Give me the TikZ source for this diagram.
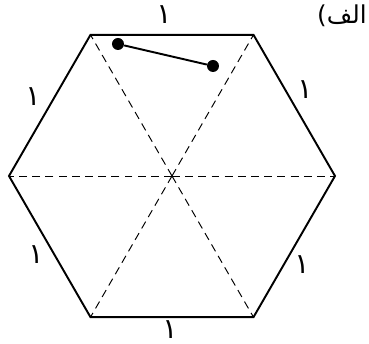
\documentclass[tikz,border=0pt]{standalone}
\usepackage{fontspec}
\TeXXeTstate=1
\newfontfamily\arabicfont[Script=Arabic]{DejaVu Sans}
\tikzset{
  hexside/.style={line width=1.1pt,line join=miter},
  hexdash/.style={line width=0.55pt,dash pattern=on 4.5pt off 3pt},
  sidelab/.style={font=\arabicfont\fontsize{16}{16}\selectfont,inner sep=0pt},
  partlab/.style={font=\arabicfont\fontsize{14}{14}\selectfont,inner sep=0pt},
  endpt/.style={circle,fill=black,inner sep=0pt,minimum size=0.24cm}
}
\begin{document}
\begin{tikzpicture}[x=1cm,y=1cm]
  \def\side{3.26}
  \useasboundingbox (-3.44,-3.36) rectangle (3.94,3.52);
  \coordinate (o) at (0,0);
  \foreach \i in {0,...,5}{
    \coordinate (v\i) at ({\i*60}:\side);
  }
  \foreach \i in {0,...,5}{
    \draw[hexdash] (o) -- (v\i);
  }
  \draw[hexside] (v0) -- (v1) -- (v2) -- (v3) -- (v4) -- (v5) -- cycle;
  \foreach \i/\x/\y in {0/2.66/1.72,1/-0.16/3.22,2/-2.78/1.58,3/-2.72/-1.58,4/-0.04/-3.08,5/2.60/-1.78}{
    \node[sidelab] (lab\i) at (\x,\y) {\beginR ۱\endR};
  }
  \node[partlab,anchor=east] (partname) at (3.90,3.2) {\beginR الف)\endR};
  \node[endpt] (p) at (-1.08,2.64) {};
  \node[endpt] (q) at (0.82,2.20) {};
  \draw[line width=1.1pt] (p) -- (q);
\end{tikzpicture}
\end{document}
